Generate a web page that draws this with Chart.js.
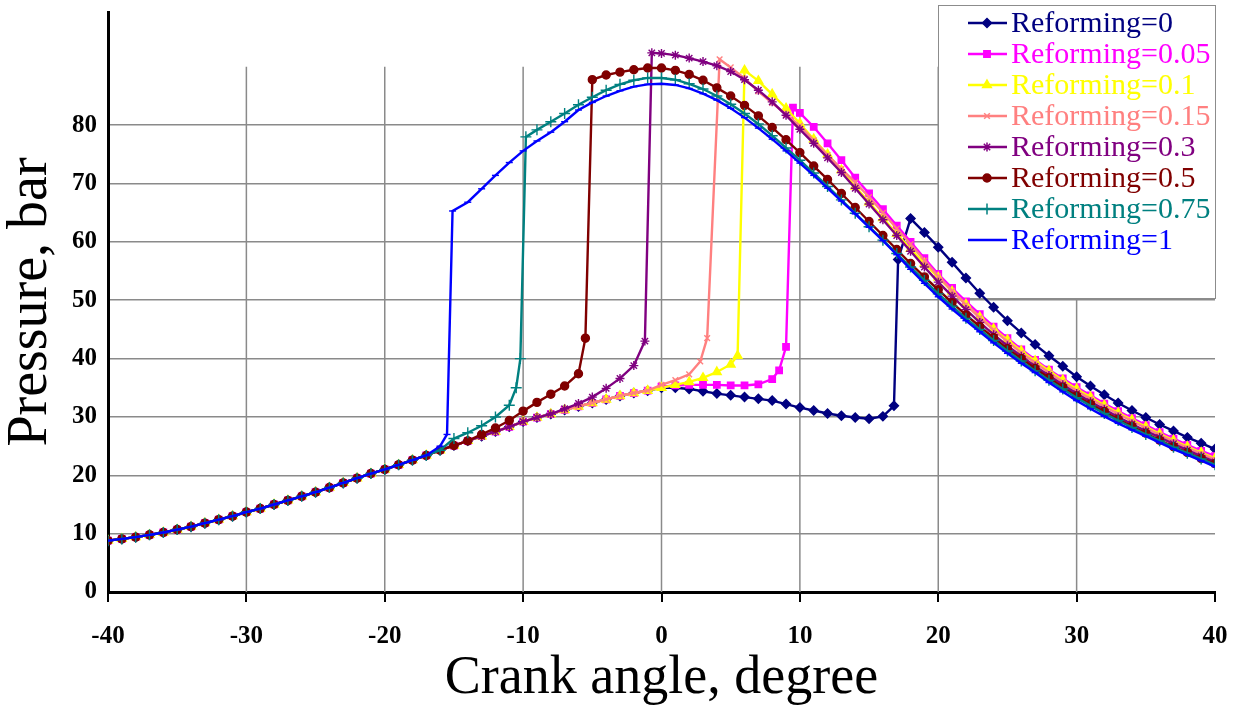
<!DOCTYPE html>
<html>
<head>
<meta charset="utf-8">
<script src="https://cdn.jsdelivr.net/npm/chart.js@4"></script>
<style>
  body { margin: 0; background: #fff; }
  canvas { display: block; }
</style>
</head>
<body>
<canvas id="pressureChart" width="1237" height="713"></canvas>
<script>
// axis ticks
const xTicks = [-40, -30, -20, -10, 0, 10, 20, 30, 40];
const yTicks = [0, 10, 20, 30, 40, 50, 60, 70, 80];
const xGridLines = [-30, -20, -10, 0, 10, 20, 30];

const seriesNames = ['Reforming=0', 'Reforming=0.05', 'Reforming=0.1', 'Reforming=0.15',
  'Reforming=0.3', 'Reforming=0.5', 'Reforming=0.75', 'Reforming=1'];

// compression part, shared by every case until it starts to burn
const motoredAngle = [-40, -39, -38, -37, -36, -35, -34, -33, -32, -31, -30, -29, -28, -27, -26, -25,
  -24, -23, -22, -21, -20, -19, -18, -17, -16, -15, -14, -13, -12, -11, -10, -9, -8, -7, -6, -5,
  -4, -3, -2, -1, 0];
const motoredPressure = [8.8, 9.1, 9.4, 9.8, 10.2, 10.7, 11.2, 11.8, 12.4, 13.0, 13.7, 14.3, 15.0, 15.7, 16.4, 17.1,
  17.9, 18.7, 19.5, 20.3, 21.0, 21.8, 22.6, 23.4, 24.3, 25.1, 25.9, 26.7, 27.5, 28.3, 29.2, 29.9, 30.5, 31.2, 31.8, 32.4,
  33.0, 33.6, 34.1, 34.5, 34.8];

// last motored angle used by each case
const lastMotored = [-1, -1, -1, -1, -8, -14, -16, -17];

// Reforming=0
const angleR0 = [0, 1, 2, 3, 4, 5, 6, 7, 8, 9, 10, 11, 12, 13, 14, 15, 16, 16.8, 17.1,
  18, 19, 20, 21, 22, 23, 24, 25, 26, 27, 28, 29, 30, 31, 32, 33, 34, 35, 36, 37, 38, 39, 40];
const pressureR0 = [35.0, 35.0, 34.8, 34.4, 34.0, 33.7, 33.4, 33.1, 32.8, 32.2, 31.6, 31.1, 30.6, 30.2, 29.9, 29.7, 30.1, 31.9, 57.0,
  64.0, 61.6, 59.1, 56.5, 53.8, 51.2, 48.8, 46.5, 44.4, 42.4, 40.5, 38.7, 36.9, 35.3, 33.8, 32.4, 31.1, 29.9, 28.7, 27.6, 26.5, 25.5, 24.5];

// Reforming=0.05
const angleR005 = [0, 1, 2, 3, 4, 5, 6, 7, 8, 8.5, 9.0, 9.5,
  10, 11, 12, 13, 14, 15, 16, 17, 18, 19, 20, 21, 22, 23, 24, 25, 26, 27, 28, 29, 30, 31, 32, 33, 34, 35, 36, 37, 38, 39, 40];
const pressureR005 = [35.2, 35.4, 35.5, 35.5, 35.5, 35.4, 35.4, 35.6, 36.5, 38.0, 42.0, 83.0,
  82.1, 79.7, 76.9, 74.0, 71.0, 68.3, 65.6, 62.8, 60.0, 57.2, 54.5, 52.1, 49.8, 47.6, 45.5, 43.5, 41.6, 39.8, 38.1, 36.6,
  35.1, 33.7, 32.3, 31.0, 29.8, 28.6, 27.4, 26.3, 25.2, 24.2, 23.3];

// Reforming=0.1
const angleR01 = [0, 1, 2, 3, 4, 5, 5.5,
  6, 7, 8, 9, 10, 11, 12, 13, 14, 15, 16, 17, 18, 19, 20, 21, 22, 23, 24, 25, 26, 27, 28, 29, 30, 31, 32, 33, 34, 35, 36, 37, 38, 39, 40];
const pressureR01 = [35.0, 35.5, 36.0, 36.7, 37.7, 39.0, 40.5,
  89.4, 87.6, 85.3, 82.9, 80.3, 77.6, 75.0, 72.3, 69.5, 66.8, 64.1, 61.4, 58.8, 56.3, 53.9, 51.5, 49.3, 47.1, 45.1, 43.2,
  41.3, 39.6, 37.9, 36.3, 34.8, 33.4, 32.0, 30.7, 29.5, 28.3, 27.1, 26.0, 24.9, 23.9, 22.9];

// Reforming=0.15
const angleR015 = [0, 1, 2, 2.8, 3.3, 4.2,
  5, 6, 7, 8, 9, 10, 11, 12, 13, 14, 15, 16, 17, 18, 19, 20, 21, 22, 23, 24, 25, 26, 27, 28, 29, 30, 31, 32, 33, 34, 35, 36, 37, 38, 39, 40];
const pressureR015 = [35.5, 36.3, 37.3, 39.5, 43.5, 91.3,
  89.9, 88.0, 85.8, 83.8, 81.9, 79.9, 77.4, 74.9, 72.5, 70.2, 67.7, 65.0, 62.3, 59.6, 56.8, 54.1, 51.6, 49.2, 47.0, 44.9,
  42.9, 41.0, 39.3, 37.6, 36.0, 34.5, 33.1, 31.8, 30.5, 29.3, 28.1, 26.9, 25.8, 24.7, 23.7, 22.7];

// Reforming=0.3
const angleR03 = [-7, -6, -5, -4, -3, -2, -1.2, -0.7,
  0, 1, 2, 3, 4, 5, 6, 7, 8, 9, 10, 11, 12, 13, 14, 15, 16, 17, 18, 19, 20, 21, 22, 23, 24, 25, 26, 27, 28, 29, 30,
  31, 32, 33, 34, 35, 36, 37, 38, 39, 40];
const pressureR03 = [31.4, 32.3, 33.4, 34.9, 36.6, 38.8, 43.0, 92.4,
  92.3, 92.0, 91.5, 90.9, 90.2, 89.2, 87.8, 86.0, 84.0, 81.7, 79.3, 76.9, 74.4, 71.9, 69.2, 66.5, 63.8, 61.1, 58.4, 55.7,
  53.1, 50.7, 48.4, 46.2, 44.1, 42.2, 40.4, 38.7, 37.1, 35.5, 34.0, 32.6, 31.3, 30.0, 28.8, 27.6, 26.5, 25.4, 24.3, 23.3, 22.3];

// Reforming=0.5
const angleR05 = [-13, -12, -11, -10, -9, -8, -7, -6, -5.5, -5, -4, -3, -2, -1,
  0, 1, 2, 3, 4, 5, 6, 7, 8, 9, 10, 11, 12, 13, 14, 15, 16, 17, 18, 19, 20, 21, 22, 23, 24, 25, 26, 27, 28, 29, 30,
  31, 32, 33, 34, 35, 36, 37, 38, 39, 40];
const pressureR05 = [27.0, 28.1, 29.4, 31.0, 32.5, 33.9, 35.3, 37.4, 43.5, 87.8, 88.6, 89.1, 89.5, 89.8,
  89.8, 89.4, 88.7, 87.7, 86.4, 85.0, 83.4, 81.6, 79.6, 77.5, 75.3, 73.0, 70.7, 68.3, 65.9, 63.5, 61.1, 58.7, 56.3, 54.0,
  51.8, 49.6, 47.5, 45.5, 43.6, 41.7, 40.0, 38.3, 36.7, 35.1, 33.6, 32.2, 30.9, 29.6, 28.4, 27.2, 26.0, 24.9, 23.9, 22.9, 22.0];

// Reforming=0.75
const angleR075 = [-15, -14, -13, -12, -11, -10.5, -10.2, -9.8, -9, -8, -7, -6, -5, -4, -3, -2, -1,
  0, 1, 2, 3, 4, 5, 6, 7, 8, 9, 10, 11, 12, 13, 14, 15, 16, 17, 18, 19, 20, 21, 22, 23, 24, 25, 26, 27, 28, 29, 30,
  31, 32, 33, 34, 35, 36, 37, 38, 39, 40];
const pressureR075 = [26.3, 27.3, 28.5, 30.0, 32.0, 35.0, 40.0, 78.0, 79.2, 80.6, 82.0, 83.5, 84.8, 86.0, 87.0, 87.7, 88.1,
  88.1, 87.8, 87.1, 86.2, 85.0, 83.6, 82.0, 80.2, 78.2, 76.1, 74.0, 71.8, 69.5, 67.2, 64.9, 62.6, 60.3, 58.0, 55.7, 53.4,
  51.1, 49.0, 46.9, 45.0, 43.1, 41.3, 39.6, 37.9, 36.3, 34.8, 33.3, 31.9, 30.6, 29.4, 28.2, 27.0, 25.9, 24.8, 23.8, 22.8, 21.8];

// Reforming=1
const angleR1 = [-16, -15.5, -15.1, -14, -13, -12, -11, -10, -9, -8, -7, -6, -5, -4, -3, -2, -1,
  0, 1, 2, 3, 4, 5, 6, 7, 8, 9, 10, 11, 12, 13, 14, 15, 16, 17, 18, 19, 20, 21, 22, 23, 24, 25, 26, 27, 28, 29, 30,
  31, 32, 33, 34, 35, 36, 37, 38, 39, 40];
const pressureR1 = [25.0, 27.0, 65.3, 66.8, 69.1, 71.4, 73.6, 75.6, 77.3, 78.8, 80.6, 82.6, 83.9, 85.0, 85.9, 86.6, 87.0,
  87.1, 86.9, 86.3, 85.4, 84.3, 82.9, 81.3, 79.5, 77.6, 75.6, 73.5, 71.4, 69.2, 67.0, 64.8, 62.5, 60.2, 57.8, 55.3, 52.9,
  50.6, 48.5, 46.5, 44.6, 42.7, 40.9, 39.2, 37.6, 35.9, 34.3, 32.8, 31.4, 30.1, 28.9, 27.8, 26.7, 25.6, 24.5, 23.5, 22.5, 21.5];

const seriesAngles = [angleR0, angleR005, angleR01, angleR015, angleR03, angleR05, angleR075, angleR1];
const seriesPressures = [pressureR0, pressureR005, pressureR01, pressureR015, pressureR03, pressureR05, pressureR075, pressureR1];

// styles
const seriesColors = ['#000080', '#FF00FF', '#FFFF00', '#FF8080', '#800080', '#800000', '#008080', '#0000FF'];
const seriesMarkers = ['rectRot', 'rect', 'triangle', 'crossRot', 'star', 'circle', 'cross', 'line'];
const markerSizes = [4.5, 4.5, 5, 4, 4.5, 4, 5.5, 3.5];

const serif = '"Liberation Serif", "Times New Roman", serif';

function buildSeries(i) {
  const pts = [];
  motoredAngle.forEach((a, k) => {
    if (a <= lastMotored[i]) pts.push({ x: a, y: motoredPressure[k] });
  });
  seriesAngles[i].forEach((a, k) => pts.push({ x: a, y: seriesPressures[i][k] }));
  return pts;
}

// vertical grid stops at 90, then the legend box is painted under the curves
const gridAndLegend = {
  id: 'gridAndLegend',
  beforeDatasetsDraw(chart) {
    const { ctx, scales: { x, y } } = chart;
    const top = y.getPixelForValue(90);
    const bottom = y.getPixelForValue(0);
    ctx.save();
    ctx.strokeStyle = '#8a8a8a';
    ctx.lineWidth = 1.5;
    xGridLines.forEach(v => {
      const px = x.getPixelForValue(v);
      ctx.beginPath();
      ctx.moveTo(px, top);
      ctx.lineTo(px, bottom);
      ctx.stroke();
    });

    ctx.fillStyle = '#ffffff';
    ctx.fillRect(938, 5, 277, 293);
    ctx.strokeStyle = '#8c8c8c';
    ctx.lineWidth = 1;
    ctx.strokeRect(938.5, 5.5, 277, 293);
    ctx.font = '30px ' + serif;
    ctx.textBaseline = 'middle';
    ctx.textAlign = 'left';
    chart.data.datasets.forEach((ds, i) => {
      const ly = 23 + i * 31;
      ctx.strokeStyle = ds.borderColor;
      ctx.fillStyle = ds.borderColor;
      ctx.lineWidth = 2.4;
      ctx.beginPath();
      ctx.moveTo(968, ly);
      ctx.lineTo(1007, ly);
      ctx.stroke();
      if (ds.pointStyle !== 'line') {
        ctx.lineWidth = 1.5;
        Chart.helpers.drawPoint(ctx, { pointStyle: ds.pointStyle, radius: ds.pointRadius, borderWidth: 1.5, rotation: 0 }, 987, ly);
      }
      ctx.fillStyle = ds.borderColor;
      ctx.fillText(ds.label, 1011, ly + 1);
    });
    ctx.restore();
  }
};

new Chart(document.getElementById('pressureChart'), {
  type: 'line',
  data: {
    datasets: seriesNames.map((name, i) => ({
      label: name,
      data: buildSeries(i),
      borderColor: seriesColors[i],
      backgroundColor: seriesColors[i],
      borderWidth: 2.4,
      pointStyle: seriesMarkers[i],
      pointRadius: markerSizes[i],
      pointBorderWidth: 1.4,
      tension: 0,
      order: seriesNames.length - i
    }))
  },
  options: {
    responsive: false,
    animation: false,
    devicePixelRatio: 1,
    layout: { padding: { left: 0, top: 12, right: 22, bottom: 0 } },
    plugins: { legend: { display: false }, tooltip: { enabled: false } },
    scales: {
      x: {
        type: 'linear',
        min: -40,
        max: 40,
        afterBuildTicks: s => { s.ticks = xTicks.map(v => ({ value: v })); },
        afterFit: s => { s.height = 121; s.paddingLeft = 0; s.paddingRight = 0; },
        grid: { drawOnChartArea: false, drawTicks: true, tickLength: 10, color: '#000', lineWidth: 2 },
        border: { color: '#000', width: 3 },
        ticks: { color: '#000', padding: 20, maxRotation: 0, font: { family: serif, size: 25, weight: 'bold' } },
        title: { display: true, text: 'Crank angle, degree', color: '#000', padding: { top: 0, bottom: 2 },
          font: { family: serif, size: 54 } }
      },
      y: {
        type: 'linear',
        min: 0,
        max: 99.4,
        afterBuildTicks: s => { s.ticks = yTicks.map(v => ({ value: v })); },
        afterFit: s => { s.width = 108; s.paddingTop = 0; s.paddingBottom = 0; },
        grid: {
          drawTicks: false,
          lineWidth: 1.5,
          color: c => (c.tick && c.tick.value === 0) ? 'rgba(0,0,0,0)' : '#8a8a8a'
        },
        border: { color: '#000', width: 3 },
        ticks: { color: '#000', padding: 11, font: { family: serif, size: 25, weight: 'bold' } },
        title: { display: true, text: 'Pressure, bar', color: '#000', padding: 0,
          font: { family: serif, size: 56, lineHeight: 1.1 } }
      }
    }
  },
  plugins: [gridAndLegend]
});
</script>
</body>
</html>
